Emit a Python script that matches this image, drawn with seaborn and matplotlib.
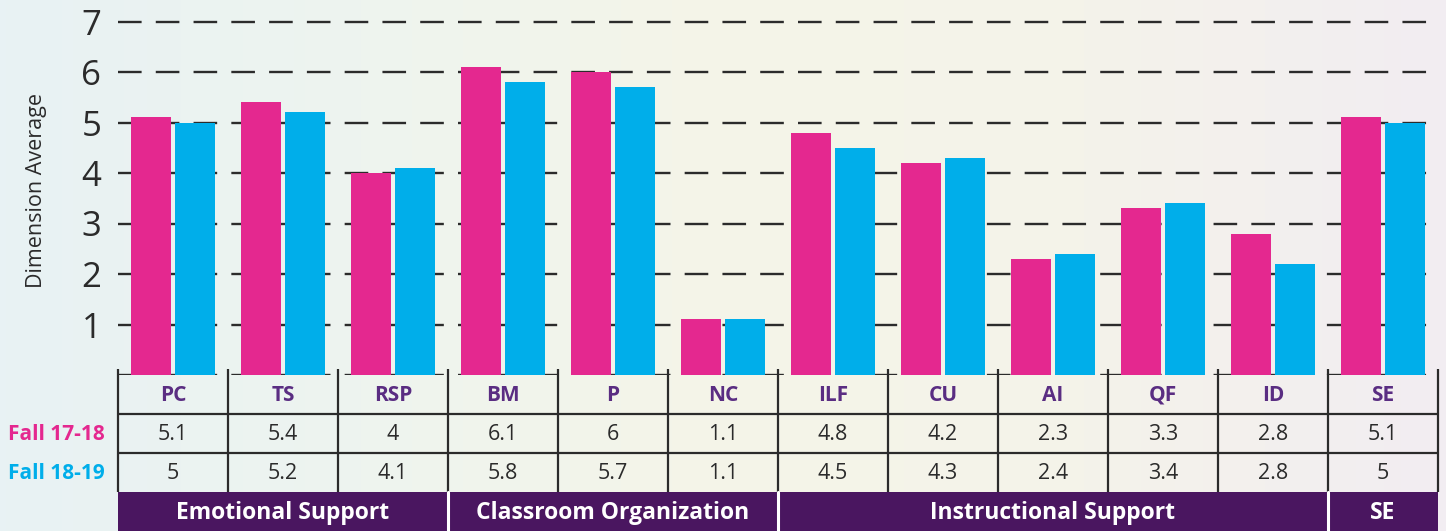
"""Recreate the CLASS dimension averages chart with its data table."""

from __future__ import annotations

import matplotlib
import numpy as np
import pandas as pd
import seaborn as sns

matplotlib.use("Agg")
import matplotlib.pyplot as plt
from matplotlib.colors import LinearSegmentedColormap

DIMENSIONS = ["PC", "TS", "RSP", "BM", "P", "NC", "ILF", "CU", "AI", "QF", "ID", "SE"]
FALL_17_18 = [5.1, 5.4, 4.0, 6.1, 6.0, 1.1, 4.8, 4.2, 2.3, 3.3, 2.8, 5.1]
FALL_18_19 = [5.0, 5.2, 4.1, 5.8, 5.7, 1.1, 4.5, 4.3, 2.4, 3.4, 2.2, 5.0]
FALL_17_18_TEXT = ["5.1", "5.4", "4", "6.1", "6", "1.1", "4.8", "4.2", "2.3", "3.3", "2.8", "5.1"]
FALL_18_19_TEXT = ["5", "5.2", "4.1", "5.8", "5.7", "1.1", "4.5", "4.3", "2.4", "3.4", "2.8", "5"]
SERIES_NAMES = ["Fall 17-18", "Fall 18-19"]
DOMAINS = ["Emotional Support", "Classroom Organization", "Instructional Support", "SE"]
DOMAIN_SIZES = [3, 3, 5, 1]
Y_TICKS = [1, 2, 3, 4, 5, 6, 7]

PINK = "#e4288f"
BLUE = "#00aeea"
PURPLE_TEXT = "#5a2d82"
PURPLE_BAND = "#4a1660"
INK = "#2b2b2b"
FONT = ["Open Sans", "DejaVu Sans"]

W, H = 1446, 531
AX_LEFT, AX_RIGHT = 118, 1438
BASELINE_Y, AX_TOP_Y = 375, 10
UNIT_PX = 50.5


def build_frame() -> pd.DataFrame:
    """Long-format frame for seaborn."""
    return pd.DataFrame(
        {
            "dimension": DIMENSIONS * 2,
            "score": FALL_17_18 + FALL_18_19,
            "year": [SERIES_NAMES[0]] * len(DIMENSIONS) + [SERIES_NAMES[1]] * len(DIMENSIONS),
        }
    )


def draw_background(fig) -> None:
    """Soft watercolour-like wash behind everything."""
    bg = fig.add_axes([0, 0, 1, 1], zorder=-10)
    cmap = LinearSegmentedColormap.from_list(
        "wash", ["#e8f2f4", "#eef4ef", "#f5f5e8", "#f4f3ea", "#f2edf2"]
    )
    bg.imshow(np.linspace(0, 1, 256)[None, :], aspect="auto", cmap=cmap,
              extent=[0, 1, 0, 1])
    bg.axis("off")


def draw_bars(fig, df: pd.DataFrame):
    """Grouped bars with dashed gridlines."""
    ymax = (BASELINE_Y - AX_TOP_Y) / UNIT_PX
    ax = fig.add_axes([
        AX_LEFT / W,
        (H - BASELINE_Y) / H,
        (AX_RIGHT - AX_LEFT) / W,
        (BASELINE_Y - AX_TOP_Y) / H,
    ])
    ax.set_facecolor("none")
    for level in [0] + Y_TICKS:
        ax.axhline(level, color=INK, lw=1.7, ls=(0, (10, 6)), zorder=0)
    sns.barplot(
        data=df, x="dimension", y="score", hue="year",
        palette=[PINK, BLUE], width=0.8, gap=0.1, saturation=1,
        linewidth=0, legend=False, ax=ax, zorder=2,
    )
    ax.set_xlim(-0.5, len(DIMENSIONS) - 0.5)
    ax.set_ylim(0, ymax)
    ax.set_yticks(Y_TICKS)
    ax.set_yticklabels([str(t) for t in Y_TICKS], fontsize=25, color=INK, family=FONT)
    ax.tick_params(axis="y", length=0, pad=12)
    ax.set_xticks([])
    ax.set_xlabel("")
    ax.set_ylabel("")
    for spine in ax.spines.values():
        spine.set_visible(False)
    fig.text(37 / W, 1 - 191 / H, "Dimension Average", rotation=90,
             ha="center", va="center", fontsize=15.5, color=INK, family=FONT)
    return ax


def draw_table(fig) -> None:
    """Category row, value rows and domain band under the bars."""
    n = len(DIMENSIONS)
    tab = fig.add_axes([AX_LEFT / W, 0, (AX_RIGHT - AX_LEFT) / W, (H - BASELINE_Y) / H])
    tab.set_xlim(-0.5, n - 0.5)
    tab.set_ylim(4, 0)
    tab.axis("off")
    tab.patch.set_alpha(0)

    for i in range(n + 1):
        tab.plot([i - 0.5, i - 0.5], [-0.15, 3.0], color=INK, lw=1.6,
                 clip_on=False, solid_capstyle="butt")
    for row in (1, 2):
        tab.plot([-0.5, n - 0.5], [row, row], color=INK, lw=1.6)

    for i, name in enumerate(DIMENSIONS):
        tab.text(i, 0.52, name, ha="center", va="center", fontsize=15,
                 fontweight="bold", color=PURPLE_TEXT, family=FONT)
        tab.text(i, 1.52, FALL_17_18_TEXT[i], ha="center", va="center",
                 fontsize=15.5, color=INK, family=FONT)
        tab.text(i, 2.52, FALL_18_19_TEXT[i], ha="center", va="center",
                 fontsize=15.5, color=INK, family=FONT)

    label_x = -0.5 - 13 / 110
    for row, name, color in zip((1.52, 2.52), SERIES_NAMES, (PINK, BLUE)):
        tab.text(label_x, row, name, ha="right", va="center", fontsize=15,
                 fontweight="bold", color=color, family=FONT, clip_on=False)

    start = 0
    for name, size in zip(DOMAINS, DOMAIN_SIZES):
        left = start - 0.5
        tab.add_patch(plt.Rectangle((left, 3.0), size, 1.0, color=PURPLE_BAND, lw=0))
        if start > 0:
            tab.plot([left, left], [3.0, 4.0], color="white", lw=2.2)
        tab.text(left + size / 2, 3.55, name, ha="center", va="center",
                 fontsize=16.5, fontweight="bold", color="white", family=FONT)
        start += size


def main() -> None:
    """Build and save the chart."""
    sns.set_theme(style="white")
    plt.rcParams["font.family"] = FONT
    fig = plt.figure(figsize=(W / 100, H / 100), dpi=100)
    draw_background(fig)
    draw_bars(fig, build_frame())
    draw_table(fig)
    fig.savefig("out.png", dpi=100)
    plt.close(fig)


if __name__ == "__main__":
    main()
